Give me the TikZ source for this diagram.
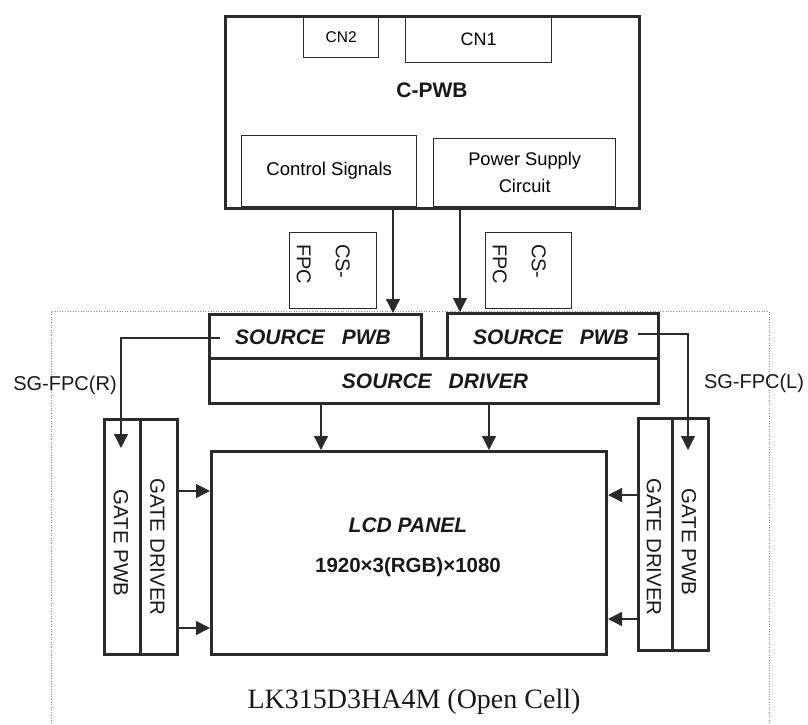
\documentclass[tikz,border=0pt]{standalone}
\usepackage{fontspec}
\setmainfont{Liberation Sans}
\newfontfamily\serifcap{Liberation Serif}
\usetikzlibrary{arrows.meta,calc}
\definecolor{ink}{HTML}{2B2B2B}
\definecolor{dotc}{HTML}{8A8A8A}
\begin{document}
\begin{tikzpicture}[x=1pt,y=-1pt,
  thickbox/.style={draw=ink, line width=3pt, inner sep=0pt, anchor=north west},
  thinbox/.style={draw=ink, line width=1.4pt, inner sep=0pt, anchor=north west},
  arr/.style={draw=ink, line width=1.3pt, -{Triangle[length=14pt,width=14pt]}},
  lbl/.style={text=black!90, inner sep=0pt},
  biglbl/.style={lbl, font=\fontsize{21}{25}\selectfont\bfseries\itshape},
  gatelbl/.style={lbl, rotate=-90, font=\fontsize{20.5}{25}\selectfont},
  dotframe/.style={draw=dotc, line width=0.9pt, dash pattern=on 1pt off 1.6pt}
]
\useasboundingbox (0,0) rectangle (808,725);

% outer dotted frame
\draw[dotframe] (51,726) -- (51,311) -- (769,311) -- (769,726);

% C-PWB
\node[thickbox, minimum width=414pt, minimum height=192pt] (cpwb) at (224,15) {};
\node[thinbox, minimum width=75pt, minimum height=42pt, font=\fontsize{15.5}{18}\selectfont] (cn2) at (303,15) {CN2};
\node[thinbox, minimum width=146pt, minimum height=47pt, font=\fontsize{18}{21}\selectfont] (cn1) at (405,15) {CN1};
\node[lbl, font=\fontsize{21}{24}\selectfont\bfseries] (cpwblbl) at (432,90) {C-PWB};
\node[thinbox, minimum width=175pt, minimum height=71pt, font=\fontsize{18.5}{22}\selectfont] (ctrl) at (241,135) {Control Signals};
\node[thinbox, minimum width=182pt, minimum height=68pt, align=center, font=\fontsize{18.3}{27}\selectfont] (power) at (433,138) {Power Supply\\Circuit};

% CS-FPC boxes
\node[thinbox, minimum width=87pt, minimum height=76pt] (csL) at (289,232) {};
\node[thinbox, minimum width=86pt, minimum height=76pt] (csR) at (485,232) {};
\node[lbl, rotate=-90, anchor=north west, align=left, font=\fontsize{20}{39}\selectfont] (csLlbl) at (350,244) {CS-\\FPC};
\node[lbl, rotate=-90, anchor=north west, align=left, font=\fontsize{20}{39}\selectfont] (csRlbl) at (546,244) {CS-\\FPC};

% Source PWBs and driver
\node[thickbox, minimum width=212pt, minimum height=44pt] (spL) at (208,313) {};
\node[thickbox, minimum width=211pt, minimum height=45pt] (spR) at (446,312) {};
\node[thickbox, minimum width=449pt, minimum height=45pt] (sdrv) at (208,357) {};
\node[biglbl] (spLlbl) at (313,337) {SOURCE\hspace{17pt}PWB};
\node[biglbl] (spRlbl) at (551,337) {SOURCE\hspace{17pt}PWB};
\node[biglbl] (sdrvlbl) at (435,381) {SOURCE\hspace{17pt}DRIVER};

% LCD panel
\node[thickbox, minimum width=395pt, minimum height=203pt] (lcd) at (210,450) {};
\node[biglbl] (lcdlbl) at (408,525) {LCD PANEL};
\node[lbl, font=\fontsize{20.5}{24}\selectfont\bfseries] (reslbl) at (408,567) {1920×3(RGB)×1080};

% Gate boards
\node[thickbox, minimum width=36pt, minimum height=235pt] (gpL) at (103,418) {};
\node[thickbox, minimum width=37pt, minimum height=235pt] (gdL) at (139,418) {};
\node[thickbox, minimum width=34pt, minimum height=232pt] (gdR) at (637,417) {};
\node[thickbox, minimum width=36pt, minimum height=232pt] (gpR) at (671,417) {};
\node[gatelbl] (gpLlbl) at (121,543) {GATE PWB};
\node[gatelbl] (gdLlbl) at (157.5,547) {GATE DRIVER};
\node[gatelbl] (gdRlbl) at (654,547) {GATE DRIVER};
\node[gatelbl] (gpRlbl) at (689,542) {GATE PWB};

% helper coordinates
\coordinate (xa) at (393,0);
\coordinate (xb) at (460,0);
\coordinate (xc) at (321,0);
\coordinate (xd) at (489,0);
\coordinate (ya) at (0,491);
\coordinate (yb) at (0,628);
\coordinate (yc) at (0,495);
\coordinate (yd) at (0,619);
\coordinate (sgR0) at (220,338);
\coordinate (sgR1) at (121,448);
\coordinate (sgL0) at (638,334);
\coordinate (sgL1) at (688,450);

% connectors
\draw[arr] (cpwb.south -| xa) -- (spL.north -| xa);
\draw[arr] (cpwb.south -| xb) -- (spR.north -| xb);
\draw[arr] (sdrv.south -| xc) -- (lcd.north -| xc);
\draw[arr] (sdrv.south -| xd) -- (lcd.north -| xd);
\draw[arr] (gdL.east |- ya) -- (lcd.west |- ya);
\draw[arr] (gdL.east |- yb) -- (lcd.west |- yb);
\draw[arr] (gdR.west |- yc) -- (lcd.east |- yc);
\draw[arr] (gdR.west |- yd) -- (lcd.east |- yd);
\draw[arr] (sgR0) -| (sgR1);
\draw[arr] (sgL0) -| (sgL1);

% side labels
\node[lbl, font=\fontsize{20}{24}\selectfont] (sgRlbl) at (65,385) {SG-FPC(R)};
\node[lbl, font=\fontsize{20}{24}\selectfont] (sgLlbl) at (754,383) {SG-FPC(L)};

% caption
\node[lbl, anchor=base, font=\fontsize{28}{32}\selectfont\serifcap] (caption) at (414,708) {LK315D3HA4M (Open Cell)};
\end{tikzpicture}
\end{document}
